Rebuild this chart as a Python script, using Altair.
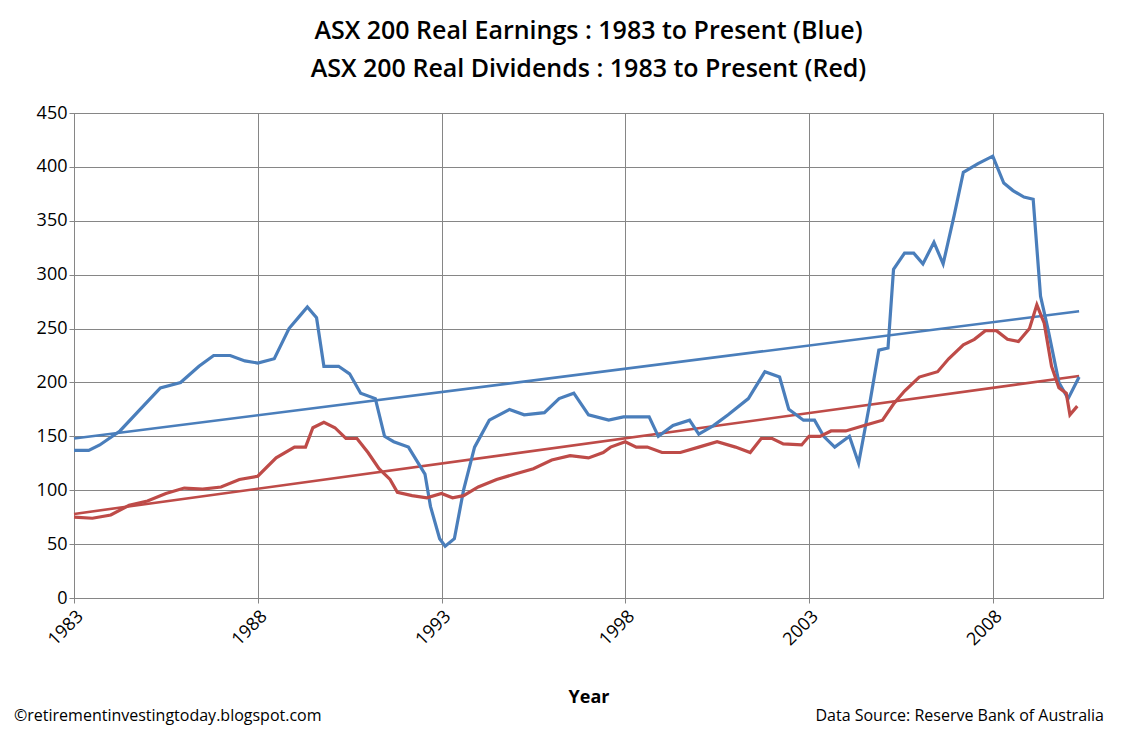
import altair as alt
import pandas as pd

# Real earnings (blue) - year, value
earn_year = [1983.0, 1983.4, 1983.7, 1984.25, 1984.8, 1985.35, 1985.9, 1986.4, 1986.8, 1987.25,
             1987.65, 1988.0, 1988.45, 1988.85, 1989.15, 1989.35, 1989.6, 1989.8, 1990.2, 1990.5,
             1990.8, 1991.2, 1991.45, 1991.7, 1992.1, 1992.55, 1992.7, 1992.95, 1993.1, 1993.35,
             1993.6, 1993.9, 1994.3, 1994.85, 1995.25, 1995.8, 1996.2, 1996.6, 1997.0, 1997.55,
             1997.95, 1998.65, 1998.9, 1999.3, 1999.75, 2000.0, 2000.4, 2000.8, 2001.35, 2001.8,
             2002.2, 2002.45, 2002.85, 2003.15, 2003.4, 2003.7, 2004.1, 2004.35, 2004.65, 2004.9,
             2005.15, 2005.3, 2005.6, 2005.85, 2006.1, 2006.4, 2006.65, 2006.95, 2007.2, 2007.6,
             2008.0, 2008.3, 2008.55, 2008.85, 2009.1, 2009.3, 2009.5, 2009.8, 2010.05, 2010.35]
earn_val = [137, 137, 142, 155, 175, 195, 200, 215, 225, 225,
            220, 218, 222, 250, 262, 270, 260, 215, 215, 208,
            190, 185, 150, 145, 140, 115, 85, 55, 48, 55,
            100, 140, 165, 175, 170, 172, 185, 190, 170, 165,
            168, 168, 150, 160, 165, 152, 160, 170, 185, 210,
            205, 175, 165, 165, 150, 140, 150, 125, 180, 230,
            232, 305, 320, 320, 310, 330, 310, 355, 395, 403,
            410, 385, 378, 372, 370, 280, 250, 200, 185, 205]

# Real dividends (red)
div_year = [1983.0, 1983.5, 1984.0, 1984.5, 1985.0, 1985.5, 1986.0, 1986.5, 1987.0, 1987.5,
            1988.0, 1988.5, 1989.0, 1989.3, 1989.5, 1989.8, 1990.1, 1990.4, 1990.7, 1991.0,
            1991.3, 1991.6, 1991.8, 1992.2, 1992.6, 1993.0, 1993.3, 1993.6, 1994.0, 1994.5,
            1995.0, 1995.5, 1996.0, 1996.5, 1997.0, 1997.4, 1997.6, 1998.0, 1998.3, 1998.6,
            1999.0, 1999.5, 2000.0, 2000.5, 2001.0, 2001.4, 2001.7, 2002.0, 2002.3, 2002.8,
            2003.0, 2003.3, 2003.6, 2004.0, 2004.5, 2005.0, 2005.3, 2005.6, 2006.0, 2006.5,
            2006.8, 2007.2, 2007.5, 2007.8, 2008.1, 2008.4, 2008.7, 2009.0, 2009.2, 2009.4,
            2009.6, 2009.8, 2010.0, 2010.1, 2010.3]
div_val = [75, 74, 77, 86, 90, 97, 102, 101, 103, 110,
           113, 130, 140, 140, 158, 163, 158, 148, 148, 135,
           120, 110, 98, 95, 93, 97, 93, 95, 103, 110,
           115, 120, 128, 132, 130, 135, 140, 145, 140, 140,
           135, 135, 140, 145, 140, 135, 148, 148, 143, 142,
           150, 150, 155, 155, 160, 165, 180, 192, 205, 210,
           222, 235, 240, 248, 248, 240, 238, 250, 272, 255,
           215, 195, 190, 170, 178]

# Linear trend endpoints
trend_year = [1983.0, 2010.35]
earn_trend = [148, 266]
div_trend = [78, 206]

BLUE = "#4A7EBB"
RED = "#BE4B48"

df = pd.concat([
    pd.DataFrame({"Year": earn_year, "Value": earn_val, "s": "earn"}),
    pd.DataFrame({"Year": div_year, "Value": div_val, "s": "div"}),
])
trend = pd.concat([
    pd.DataFrame({"Year": trend_year, "Value": earn_trend, "s": "earn"}),
    pd.DataFrame({"Year": trend_year, "Value": div_trend, "s": "div"}),
])

x = alt.X("Year:Q", scale=alt.Scale(domain=[1983, 2011], nice=False),
          axis=alt.Axis(values=[1983, 1988, 1993, 1998, 2003, 2008], format="d",
                        labelAngle=-45, labelAlign="right", labelFontSize=18,
                        title="Year", titleFontSize=18, titleFontWeight="bold",
                        titlePadding=40, labelPadding=4))
y = alt.Y("Value:Q", scale=alt.Scale(domain=[0, 450]),
          axis=alt.Axis(values=list(range(0, 451, 50)), labelFontSize=18, title=None))
color = alt.Color("s:N", scale=alt.Scale(domain=["earn", "div"], range=[BLUE, RED]), legend=None)

lines = alt.Chart(df).mark_line(strokeWidth=3.2).encode(x=x, y=y, color=color, detail="s:N")
trends = alt.Chart(trend).mark_line(strokeWidth=2.6).encode(x=x, y=y, color=color, detail="s:N")

left_note = alt.Chart(pd.DataFrame({"t": ["\u00a9retirementinvestingtoday.blogspot.com"]})).mark_text(
    align="left", fontSize=16, font="Open Sans", color="black").encode(
    text="t:N", x=alt.value(-60), y=alt.value(603))
right_note = alt.Chart(pd.DataFrame({"t": ["Data Source: Reserve Bank of Australia"]})).mark_text(
    align="right", fontSize=16, font="Open Sans", color="black").encode(
    text="t:N", x=alt.value(1030), y=alt.value(603))

chart = alt.layer(trends, lines, left_note, right_note).properties(
    width=1029, height=485,
    autosize=alt.AutoSizeParams(type="none"),
    padding={"left": 66, "top": 105, "right": 30, "bottom": 132},
    title=alt.TitleParams(["ASX 200 Real Earnings : 1983 to Present (Blue)",
                           "ASX 200 Real Dividends : 1983 to Present (Red)"],
                          fontSize=25, fontWeight=600, lineHeight=38, offset=22,
                          font="Open Sans", anchor="middle"),
).configure_axis(
    gridColor="#868686", domainColor="#868686", tickColor="#868686",
    labelColor="black", titleColor="black", labelFont="Open Sans", titleFont="Open Sans",
).configure_view(stroke="#868686")

chart.save("out.html", embed_options={"renderer": "svg", "actions": False})
